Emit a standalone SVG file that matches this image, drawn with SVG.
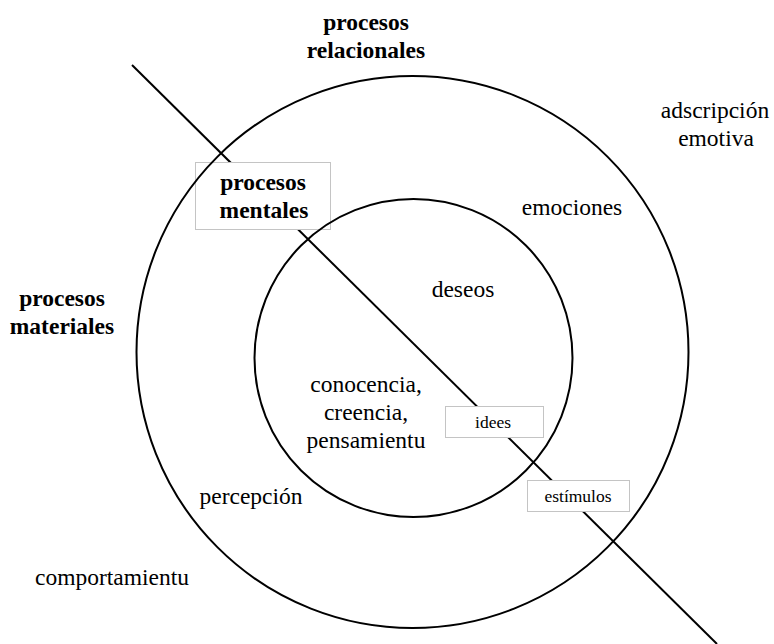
<svg xmlns="http://www.w3.org/2000/svg" width="774" height="644" viewBox="0 0 774 644">
<style>
.ring{fill:none;stroke:#000;stroke-width:2}
.axis{stroke:#000;stroke-width:2}
.box{fill:#fff;stroke:#c4c4c4;stroke-width:1}
text{fill:#000;text-anchor:middle;font-family:'Liberation Serif','Times New Roman',serif}
.t{font-size:23.5px}
.b{font-size:23.5px;font-weight:bold}
.s{font-size:17.5px}
</style>
<rect width="774" height="644" fill="#fff"/>
<g id="connectors">
<line class="axis" x1="132" y1="65" x2="717" y2="644"/>
</g>
<g id="box-mentales">
<rect class="box" x="195.5" y="162.5" width="135" height="67"/>
<text class="b" x="263" y="190">procesos</text>
<text class="b" x="264" y="218">mentales</text>
</g>
<g id="box-idees">
<rect class="box" x="445.5" y="406.5" width="98" height="31"/>
<text class="s" x="493" y="428">idees</text>
</g>
<g id="box-estimulos">
<rect class="box" x="527.5" y="480.5" width="102" height="31"/>
<text class="s" x="578" y="502">estímulos</text>
</g>
<g id="outer-ring">
<circle class="ring" cx="412.5" cy="352" r="276"/>
</g>
<g id="inner-ring">
<circle class="ring" cx="413.5" cy="358" r="159"/>
</g>
<g id="relacionales">
<text class="b" x="366" y="30">procesos</text>
<text class="b" x="366" y="58">relacionales</text>
</g>
<g id="materiales">
<text class="b" x="62" y="306">procesos</text>
<text class="b" x="62" y="334">materiales</text>
</g>
<g id="adscripcion">
<text class="t" x="715" y="118">adscripción</text>
<text class="t" x="716" y="146">emotiva</text>
</g>
<g id="emociones"><text class="t" x="572" y="215">emociones</text></g>
<g id="deseos"><text class="t" x="463" y="297">deseos</text></g>
<g id="conocencia">
<text class="t" x="366" y="392">conocencia,</text>
<text class="t" x="366" y="420">creencia,</text>
<text class="t" x="366" y="448">pensamientu</text>
</g>
<g id="percepcion"><text class="t" x="251" y="504">percepción</text></g>
<g id="comportamientu"><text class="t" x="112" y="585">comportamientu</text></g>
</svg>
